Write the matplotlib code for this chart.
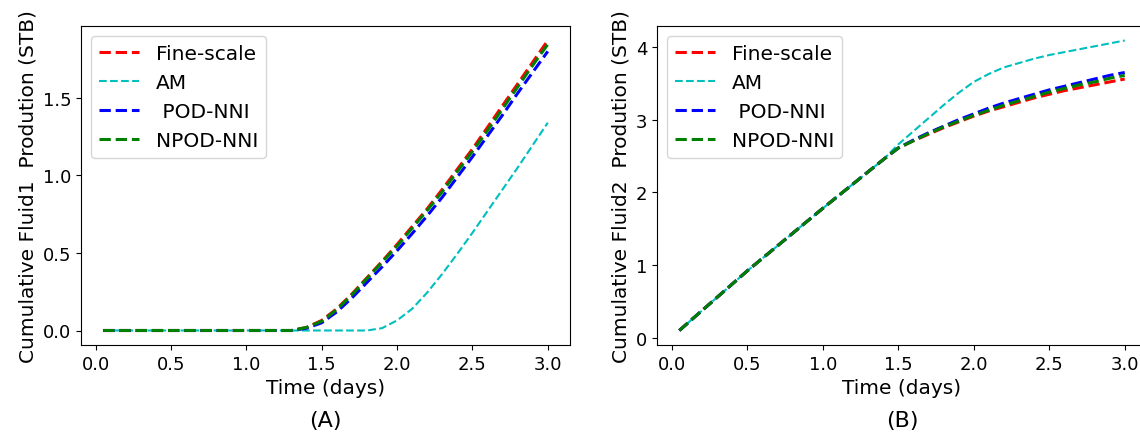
import matplotlib
matplotlib.use('Agg')
import matplotlib.pyplot as plt

# Fluid1 cumulative production (STB)
time1 = [0.05, 0.5, 1.0, 1.3, 1.4, 1.5, 1.6, 1.7, 1.8, 1.9, 2.0,
         2.1, 2.2, 2.3, 2.4, 2.5, 2.6, 2.7, 2.8, 2.9, 3.0]
fine1 = [0, 0, 0, 0, 0.02, 0.065, 0.14, 0.235, 0.34, 0.445, 0.555,
         0.67, 0.785, 0.91, 1.04, 1.17, 1.31, 1.45, 1.59, 1.73, 1.87]
am1 = [0, 0, 0, 0, 0, 0, 0, 0, 0, 0.015, 0.065,
       0.14, 0.245, 0.365, 0.495, 0.63, 0.77, 0.91, 1.05, 1.195, 1.34]
pod1 = [0, 0, 0, 0, 0.015, 0.05, 0.12, 0.21, 0.31, 0.41, 0.515,
        0.625, 0.74, 0.86, 0.99, 1.12, 1.255, 1.39, 1.53, 1.665, 1.80]
npod1 = [0, 0, 0, 0, 0.02, 0.06, 0.135, 0.23, 0.335, 0.44, 0.545,
         0.66, 0.775, 0.895, 1.025, 1.155, 1.29, 1.43, 1.57, 1.71, 1.845]

# Fluid2 cumulative production (STB)
time2 = [0.05, 0.5, 1.0, 1.4, 1.5, 1.6, 1.7, 1.8, 1.9, 2.0,
         2.1, 2.2, 2.3, 2.4, 2.5, 2.6, 2.7, 2.8, 2.9, 3.0]
fine2 = [0.1, 0.92, 1.78, 2.45, 2.61, 2.71, 2.80, 2.89, 2.97, 3.05,
         3.12, 3.18, 3.24, 3.30, 3.35, 3.40, 3.44, 3.48, 3.52, 3.56]
am2 = [0.1, 0.92, 1.78, 2.45, 2.66, 2.84, 3.02, 3.20, 3.37, 3.52,
       3.63, 3.72, 3.78, 3.84, 3.89, 3.93, 3.97, 4.01, 4.05, 4.09]
pod2 = [0.1, 0.92, 1.78, 2.45, 2.61, 2.72, 2.82, 2.91, 3.00, 3.08,
        3.16, 3.23, 3.29, 3.35, 3.41, 3.46, 3.51, 3.56, 3.61, 3.65]
npod2 = [0.1, 0.92, 1.78, 2.45, 2.61, 2.71, 2.81, 2.90, 2.98, 3.06,
         3.13, 3.20, 3.26, 3.32, 3.38, 3.43, 3.48, 3.52, 3.57, 3.61]

labels = ['Fine-scale', 'AM', ' POD-NNI', 'NPOD-NNI']
styles = [('r--', 2.2), ('c--', 1.5), ('b--', 2.2), ('g--', 2.2)]

fig = plt.figure(figsize=(11.4, 4.35), dpi=100)
ax1 = fig.add_axes([81 / 1140, 89 / 435, 489 / 1140, 319 / 435])
ax2 = fig.add_axes([657 / 1140, 89 / 435, 490 / 1140, 319 / 435])


def draw(ax, t, series, ylabel):
    for y, lab, (fmt, lw) in zip(series, labels, styles):
        ax.plot(t, y, fmt, lw=lw, label=lab)
    ax.set_xticks([0.0, 0.5, 1.0, 1.5, 2.0, 2.5, 3.0])
    ax.tick_params(labelsize=13)
    ax.set_xlabel('Time (days)', fontsize=14.5)
    ax.set_ylabel(ylabel, fontsize=14.5)
    ax.legend(loc='upper left', fontsize=14.5)


draw(ax1, time1, [fine1, am1, pod1, npod1],
     'Cumulative Fluid1  Prodution (STB)')
draw(ax2, time2, [fine2, am2, pod2, npod2],
     'Cumulative Fluid2  Prodution (STB)')

fig.text(325 / 1140, 1 - 421 / 435, '(A)', fontsize=16, ha='center', va='center')
fig.text(902 / 1140, 1 - 421 / 435, '(B)', fontsize=16, ha='center', va='center')

fig.savefig('out.png', dpi=100)
